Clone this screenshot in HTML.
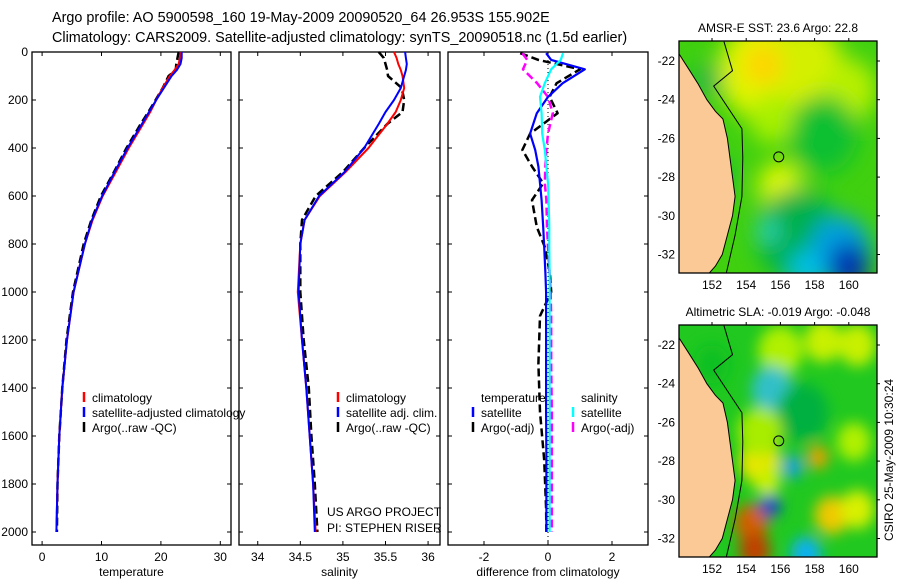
<!DOCTYPE html>
<html><head><meta charset="utf-8"><style>
body{margin:0;background:#fff}
svg{display:block;font-family:"Liberation Sans",sans-serif}
</style></head><body>
<svg id="fig" width="900" height="580" viewBox="0 0 900 580">
<text x="52" y="22" font-size="14.4">Argo profile: AO 5900598_160 19-May-2009 20090520_64 26.953S 155.902E</text>
<text x="52" y="42" font-size="14.4">Climatology: CARS2009. Satellite-adjusted climatology: synTS_20090518.nc (1.5d earlier)</text>
<g id="g"></g>
</svg>
<script>
// ---- data ----
const depths = [0,25,50,75,100,150,200,250,300,400,500,600,700,800,1000,1200,1400,1600,1800,2000];
const tempClim = [23.3,23.2,23,22.3,21.5,20.3,19.2,18.2,17,14.6,12.4,10.2,8.5,7.2,5.3,4.2,3.4,2.9,2.6,2.4];
const tempSat  = [23.5,23.5,23.3,22.7,21.8,20.5,19.2,18,16.8,14.4,12.2,10.1,8.4,7.2,5.3,4.2,3.4,2.9,2.6,2.4];
const tempArgo = [23,22.8,22.6,22.5,21.3,20.3,19.1,17.9,16.6,14.2,12.1,9.9,8.3,7.0,5.2,4.1,3.4,2.9,2.6,2.5];
const salClim = [35.6,35.63,35.65,35.68,35.7,35.72,35.68,35.62,35.52,35.3,35.03,34.73,34.55,34.5,34.47,34.52,34.57,34.61,34.65,34.68];
const salSat  = [35.73,35.74,35.75,35.74,35.72,35.68,35.6,35.5,35.42,35.25,35.02,34.72,34.55,34.5,34.48,34.52,34.57,34.61,34.65,34.67];
const salArgo = [35.42,35.48,35.5,35.52,35.53,35.69,35.72,35.7,35.52,35.25,35.0,34.68,34.52,34.5,34.5,34.54,34.6,34.63,34.67,34.7];
const diffDepths = [5,33,72,130,187,255,340,408,477,547,617,729,812,922,1000,1100,1300,1500,1700,1900,2000];
const diffTempSat  = [-0.06,0.1,1.15,0.46,0,-0.35,-0.56,-0.4,-0.3,-0.25,-0.2,-0.15,-0.12,-0.08,-0.06,-0.06,-0.06,-0.06,-0.05,-0.05,-0.05];
const diffTempArgo = [-0.87,-0.3,1.0,0.27,0.05,0.3,-0.56,-0.8,-0.5,-0.15,-0.5,-0.35,-0.1,0.06,0.1,-0.25,-0.3,-0.25,-0.12,-0.06,-0.05];
const diffSalSat   = [0.47,0.4,0.1,-0.1,-0.25,-0.2,-0.18,-0.1,-0.05,0.0,0.02,0.04,0.04,0.05,0.05,0.05,0.05,0.05,0.05,0.05,0.05];
const diffSalArgo  = [-0.8,-0.65,-0.78,-0.34,0,0.15,0,-0.05,-0.08,-0.1,-0.05,-0.03,0.0,0.05,0.08,0.1,0.1,0.12,0.12,0.12,0.12];
const depthTicks = [0,200,400,600,800,1000,1200,1400,1600,1800,2000];
const tempTicks = [0,10,20,30];
const salTicks = [34,34.5,35,35.5,36];
const diffTicks = [-2,0,2];
const lonTicks = [152,154,156,158,160];
const latTicks = [-22,-24,-26,-28,-30,-32];
const sstTitle = "AMSR-E SST: 23.6 Argo: 22.8";
const slaTitle = "Altimetric SLA: -0.019 Argo: -0.048";
const argoLon = 155.902, argoLat = -26.953;
const coastLon = [150.0,150.05,150.7,151.2,151.7,152.2,152.64,152.9,153.05,153.2,153.35,153.2,152.9,152.6,152.2,151.7,150.0];
const coastLat = [-21.0,-21.6,-22.5,-23.2,-24,-24.6,-25,-26,-27,-28,-29,-30,-31,-32,-32.6,-33.1,-33.1];
const shelfLon = [152.7,153.2,152.1,153.0,153.75,153.8,153.75,153.35,152.8];
const shelfLat = [-21.0,-22.5,-23.3,-24.5,-25.5,-27,-29,-31,-33.1];
const sstBlobLon = [155,157.5,155,160,158.5,155.5,156,157,155.3,159.5,160,157.5,151.8,152.5];
const sstBlobLat = [-22.5,-22.3,-22.2,-23.5,-25.8,-25,-28.5,-31,-30.8,-31.8,-32.6,-32.8,-23,-28];
const sstBlobR   = [2.6,2.2,1.1,1.6,2.0,1.3,1.3,2.4,0.6,1.8,1.2,1.0,0.8,1.0];
const sstBlobC   = ["#e0f400","#d4f000","#ffd400","#b8f000","#10c030","#a8f000","#e0f800","#00b048","#30d8c8","#00a0e0","#0030b0","#00c0e8","#10b050","#20c030"];
const slaBlobLon = [156,158.5,155.5,157.3,154.8,154.3,154.5,155.4,156.7,158.2,159,160.5,154.8,157.5,160.5,155.2,160.3,152];
const slaBlobLat = [-22.3,-21.8,-24.3,-25.5,-28,-31.2,-32.6,-30.3,-28.3,-27.8,-30.8,-30.5,-26.5,-32.8,-22,-29,-27,-23];
const slaBlobR   = [1.3,1.1,1.2,1.5,1.2,1.0,0.9,0.6,0.6,0.6,1.0,1.0,1.3,0.9,1.1,0.8,1.0,1.0];
const slaBlobC   = ["#b0f000","#c8f000","#30c0c8","#00b040","#f0e400","#d06000","#c04000","#0040d0","#10a0e0","#f0a000","#f0c800","#d8f000","#a8ec00","#10b0f0","#c8f000","#c8f000","#b0f000","#10c020"];

const NS="http://www.w3.org/2000/svg";
const G=document.getElementById('g');
function el(tag,attrs,parent){const e=document.createElementNS(NS,tag);for(const k in attrs)e.setAttribute(k,attrs[k]);(parent||G).appendChild(e);return e;}
function yD(d){return 52+0.24*d;}
const panels=[
 {x0:32,x1:231,vmin:-1.7,vmax:31.8,ticks:tempTicks,label:"temperature",name:"temperature-panel"},
 {x0:239,x1:440,vmin:33.78,vmax:36.14,ticks:salTicks,label:"salinity",name:"salinity-panel"},
 {x0:448,x1:648,vmin:-3.125,vmax:3.125,ticks:diffTicks,label:"difference from climatology",name:"difference-panel"}
];
panels.forEach((p,i)=>{
 p.sx=v=>p.x0+(v-p.vmin)/(p.vmax-p.vmin)*(p.x1-p.x0);
 const r=el('rect',{x:p.x0,y:52,width:p.x1-p.x0,height:493,fill:'none',stroke:'#000','stroke-width':1.3});
 
 
 p.ticks.forEach(t=>{const x=p.sx(t);
  el('line',{x1:x,x2:x,y1:545,y2:541,stroke:'#000'});el('line',{x1:x,x2:x,y1:52,y2:56,stroke:'#000'});
  const tx=el('text',{x:x,y:561,'font-size':12,'text-anchor':'middle'});tx.textContent=t;
  
  
 });
 depthTicks.forEach(d=>{const y=yD(d);
  el('line',{x1:p.x0,x2:p.x0+4,y1:y,y2:y,stroke:'#000'});el('line',{x1:p.x1,x2:p.x1-4,y1:y,y2:y,stroke:'#000'});
  if(i==0){const tx=el('text',{x:28,y:y+4,'font-size':12,'text-anchor':'end'});tx.textContent=d;
   
   }
 });
 const xl=el('text',{x:(p.x0+p.x1)/2,y:576,'font-size':12,'text-anchor':'middle'});xl.textContent=p.label;
 
 
});
function line(p,ds,vs,col,dash,w,name){
 const pts=ds.map((d,k)=>p.sx(vs[k]).toFixed(1)+','+yD(d).toFixed(1)).join(' ');
 const a={points:pts,fill:'none',stroke:col,'stroke-width':w||2,'stroke-linejoin':'round'};
 if(dash)a['stroke-dasharray']=dash;
 const e=el('polyline',a);
 
 
}
const P=panels;
const z=el('line',{x1:P[2].sx(0),x2:P[2].sx(0),y1:52,y2:545,stroke:'#000','stroke-dasharray':'1 3'});


line(P[0],depths,tempArgo,'#000','8 4',2.5,'temp-argo-line');
line(P[0],depths,tempClim,'#f00',null,2,'temp-clim-line');
line(P[0],depths,tempSat,'#00f',null,2,'temp-sat-line');
line(P[1],depths,salArgo,'#000','8 4',2.5,'sal-argo-line');
line(P[1],depths,salClim,'#f00',null,2,'sal-clim-line');
line(P[1],depths,salSat,'#00f',null,2,'sal-sat-line');
line(P[2],diffDepths,diffTempArgo,'#000','8 4',2.5,'diff-temp-argo-line');
line(P[2],diffDepths,diffSalArgo,'#f0f','8 4',2.5,'diff-sal-argo-line');
line(P[2],diffDepths,diffTempSat,'#00f',null,2.2,'diff-temp-sat-line');
line(P[2],diffDepths,diffSalSat,'#0ff',null,2.2,'diff-sal-sat-line');
function legend(x,y,col,txt,name){
 const m=el('line',{x1:x,x2:x,y1:y-10,y2:y,stroke:col,'stroke-width':2.5});
 
 
 const t=el('text',{x:x+8,y:y,'font-size':12});t.textContent=txt;
 
 
}
legend(84,402,'#f00','climatology','legend-climatology');
legend(84,417,'#00f','satellite-adjusted climatology','legend-satellite-adjusted');
legend(84,432,'#000','Argo(..raw -QC)','legend-argo');
legend(338,402,'#f00','climatology','legend-sal-climatology');
legend(338,417,'#00f','satellite adj. clim.','legend-sal-satellite');
legend(338,432,'#000','Argo(..raw -QC)','legend-sal-argo');
let t=el('text',{x:481,y:402,'font-size':12});t.textContent='temperature';


t=el('text',{x:581,y:402,'font-size':12});t.textContent='salinity';


legend(473,417,'#00f','satellite','legend-temp-satellite');
legend(473,432,'#000','Argo(-adj)','legend-temp-argo');
legend(573,417,'#0ff','satellite','legend-sal-satellite-diff');
legend(573,432,'#f0f','Argo(-adj)','legend-sal-argo-diff');
t=el('text',{x:327,y:516,'font-size':12});t.textContent='US ARGO PROJECT';


t=el('text',{x:327,y:532,'font-size':12});t.textContent='PI: STEPHEN RISER';



// ---- maps ----
const defs=el('defs',{});
const f=el('filter',{id:'bl',filterUnits:'userSpaceOnUse',x:600,y:0,width:300,height:580},defs);
el('feGaussianBlur',{stdDeviation:11},f);
const f2=el('filter',{id:'bl2',filterUnits:'userSpaceOnUse',x:600,y:0,width:300,height:580},defs);
el('feGaussianBlur',{stdDeviation:7},f2);
function map(top,title,base,bLon,bLat,bR,bC,name,filt){
 const x0=679,x1=877,y1=top+232;
 const sx=l=>712+(l-152)*17.1, sy=a=>top+20+(-22-a)*19.35;
 const cp=el('clipPath',{id:'c'+top},defs);el('rect',{x:x0,y:top,width:x1-x0,height:232},cp);
 const g=el('g',{'clip-path':'url(#c'+top+')'});
 
 
 el('rect',{x:x0,y:top,width:x1-x0,height:232,fill:base},g);
 const gb=el('g',{filter:'url(#'+filt+')'},g);
 bLon.forEach((lo,k)=>{el('ellipse',{cx:sx(lo),cy:sy(bLat[k]),rx:bR[k]*17.1,ry:bR[k]*19.35,fill:bC[k]},gb);});
 el('polygon',{points:coastLon.map((lo,k)=>sx(lo)+','+sy(coastLat[k])).join(' '),fill:'#fbc995',stroke:'#000','stroke-width':1},g);
 el('polyline',{points:shelfLon.map((lo,k)=>sx(lo)+','+sy(shelfLat[k])).join(' '),fill:'none',stroke:'#000','stroke-width':1},g);
 const c=el('circle',{cx:sx(argoLon),cy:sy(argoLat),r:5,fill:'none',stroke:'#000','stroke-width':1});
 
 
 el('rect',{x:x0,y:top,width:x1-x0,height:232,fill:'none',stroke:'#000','stroke-width':1.3});
 lonTicks.forEach(l=>{const x=sx(l);el('line',{x1:x,x2:x,y1:top,y2:top-3,stroke:'#000'});
  const tx=el('text',{x:x,y:y1+16,'font-size':12,'text-anchor':'middle'});tx.textContent=l;
  
  });
 latTicks.forEach(a=>{const y=sy(a);el('line',{x1:x1,x2:x1+3,y1:y,y2:y,stroke:'#000'});
  const tx=el('text',{x:x0-4,y:y+4,'font-size':12,'text-anchor':'end'});tx.textContent=a;
  
  });
 const tt=el('text',{x:(x0+x1)/2,y:top-9,'font-size':12,'text-anchor':'middle'});tt.textContent=title;
 
 
}
map(41,sstTitle,'#40d010',sstBlobLon,sstBlobLat,sstBlobR,sstBlobC,'sst-map','bl');
map(325,slaTitle,'#20c820',slaBlobLon,slaBlobLat,slaBlobR,slaBlobC,'sla-map','bl2');
t=el('text',{x:0,y:0,'font-size':12,'text-anchor':'middle',transform:'translate(893,460) rotate(-90)'});
t.textContent='CSIRO 25-May-2009 10:30:24';


</script>
</body></html>
